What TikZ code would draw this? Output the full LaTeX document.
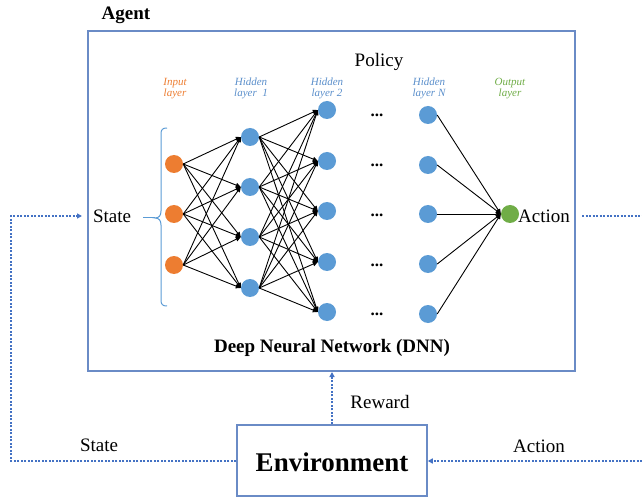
\documentclass[tikz,border=0pt]{standalone}
\usepackage{fontspec}
\setmainfont{Liberation Serif}
\usetikzlibrary{arrows.meta}
\definecolor{inputc}{HTML}{ED7D31}
\definecolor{hidc}{HTML}{5B9BD5}
\definecolor{outc}{HTML}{70AD47}
\definecolor{boxc}{HTML}{6A8BC6}
\definecolor{dotc}{HTML}{4472C4}
\definecolor{hidtext}{HTML}{5B8FCB}
\tikzset{
  neuron/.style={circle, minimum size=18bp, inner sep=0pt, draw=none},
  lay/.style={font=\fontsize{11bp}{11bp}\selectfont\itshape, align=center, inner sep=0pt},
  big/.style={font=\fontsize{19bp}{22bp}\selectfont, inner sep=0pt},
  bigb/.style={font=\fontsize{19bp}{22bp}\selectfont\bfseries, inner sep=0pt},
  conn/.style={black, line width=0.9bp, -{Triangle[length=5bp,width=4.5bp]}},
  loopline/.style={dotc, line width=2bp, dash pattern=on 2bp off 1.5bp},
  looparrow/.style={loopline, -{Triangle[length=5bp,width=5bp]}},
  dotsn/.style={font=\fontsize{17bp}{18bp}\selectfont\bfseries, inner sep=0pt, anchor=base},
}
\begin{document}
\begin{tikzpicture}[x=1bp,y=-1bp]
\useasboundingbox (0,0) rectangle (642,498);
% boxes
\draw[boxc, line width=1.3bp] (88,31) rectangle (575,371);
\node[draw=boxc, line width=1.5bp, minimum width=190bp, minimum height=71bp, inner sep=0pt] (env) at (332,460.5) {};
\node[font=\fontsize{27bp}{30bp}\selectfont\bfseries, inner sep=0pt] (envt) at (332,462) {Environment};
% texts
\node[bigb] (agent) at (126,15) {Agent};
\node[big] (policy) at (379,62) {Policy};
\node[bigb] (dnn) at (332,348) {Deep Neural Network (DNN)};
\node[big] (stin) at (112,216) {State};
\node[big] (actin) at (544,216) {Action};
\node[big] (reward) at (380,402) {Reward};
\node[big] (stout) at (99,445) {State};
\node[big] (actout) at (539,446) {Action};
% layer labels
\node[lay, text=inputc] (lin) at (175,88.5) {Input\\layer};
\node[lay, text=hidtext] (lh1) at (251,88.5) {Hidden\\layer\ \ 1};
\node[lay, text=hidtext] (lh2) at (327,88.5) {Hidden\\layer 2};
\node[lay, text=hidtext] (lhn) at (429,88.5) {Hidden\\layer N};
\node[lay, text=outc] (lout) at (510,88.5) {Output\\layer};
% neurons
\foreach \y [count=\i] in {164,214,265} \node[neuron, fill=inputc] (i\i) at (174,\y) {};
\foreach \y [count=\i] in {137,187,237,288} \node[neuron, fill=hidc] (a\i) at (250,\y) {};
\foreach \y [count=\i] in {110,161,211,262,312} \node[neuron, fill=hidc] (b\i) at (327,\y) {};
\foreach \y [count=\i] in {115,165,214,264,314} \node[neuron, fill=hidc] (n\i) at (428,\y) {};
\node[neuron, fill=outc] (o) at (510,214) {};
% dots
\foreach \y [count=\i] in {113,163,213,262,311} \node[dotsn] (d\i) at (377,\y+4) {...};
% connections
\foreach \s in {1,2,3} \foreach \t in {1,2,3,4} \draw[conn] (i\s.east) -- (a\t.west);
\foreach \s in {1,2,3,4} \foreach \t in {1,2,3,4,5} \draw[conn] (a\s.east) -- (b\t.west);
\foreach \s in {1,2,3,4,5} \draw[conn] (n\s.east) -- (o.west);
% brace
\draw[hidc, line width=1bp] (167,128) .. controls (162.5,128) and (161,129.5) .. (161,134) -- (161,211) .. controls (161,215.5) and (159,218) .. (155,218) .. controls (159,218) and (161,220.5) .. (161,225) -- (161,300) .. controls (161,304.5) and (162.5,306) .. (167,306);
\draw[hidc, line width=1bp] (155,218) -- (143,218);
% loop
\coordinate (lc1) at (11,461);
\coordinate (lc2) at (11,216);
\coordinate (lend) at (82,216);
\coordinate (rstart) at (582,216);
\coordinate (redge) at (642,216);
\coordinate (redge2) at (642,461);
\coordinate (agbot) at (332,372);
\draw[looparrow] (env.west |- lc1) -- (lc1) -- (lc2) -- (lend);
\draw[loopline] (rstart) -- (redge);
\draw[looparrow] (redge2) -- (env.east |- redge2);
\draw[looparrow] (env.north) -- (agbot);
\end{tikzpicture}
\end{document}
